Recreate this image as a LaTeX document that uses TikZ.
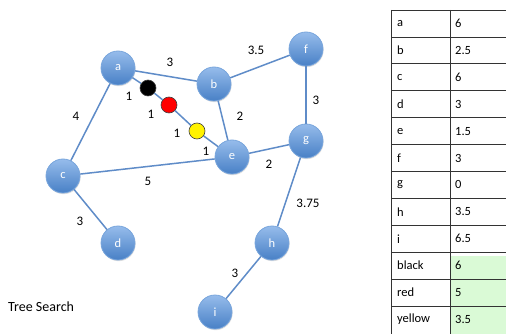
\documentclass[tikz,border=0pt]{standalone}
\usepackage{fontspec}
\setmainfont{Carlito}
\usetikzlibrary{shadows}
\definecolor{edgeblue}{RGB}{95,140,200}
\definecolor{nodetop}{RGB}{150,188,235}
\definecolor{nodebot}{RGB}{72,128,198}
\definecolor{noderim}{RGB}{120,165,220}
\definecolor{cellgreen}{RGB}{218,250,214}
\tikzset{
  vertex/.style={circle, minimum size=34pt, inner sep=0pt, draw=noderim, line width=0.8pt,
    top color=nodetop, bottom color=nodebot, text=white, font=\fontsize{12.5}{12.5}\selectfont,
    drop shadow={shadow xshift=0.6pt, shadow yshift=-1.2pt, opacity=0.25}},
  marker/.style={circle, minimum size=16pt, inner sep=0pt, draw=black!75, line width=0.6pt},
  link/.style={draw=edgeblue, line width=1.5pt},
  weight/.style={font=\fontsize{13}{13}\selectfont, inner sep=0pt},
  cell/.style={font=\fontsize{12.5}{12.5}\selectfont, anchor=west, inner sep=0pt},
  grid/.style={draw=black!80, line width=0.7pt}
}
\begin{document}
\begin{tikzpicture}[x=1pt, y=-1pt]
\useasboundingbox (0,0) rectangle (506,334);

% graph vertices
\node[vertex] (a) at (118,68) {a};
\node[vertex] (b) at (214,84) {b};
\node[vertex] (f) at (306,49) {f};
\node[vertex] (g) at (306,141) {g};
\node[vertex] (e) at (232,157) {e};
\node[vertex] (c) at (63,176) {c};
\node[vertex] (d) at (118,243) {d};
\node[vertex] (h) at (272,243) {h};
\node[vertex] (i) at (215,312) {i};

% search markers on the a--e edge
\node[marker, fill=black] (black) at (148,88) {};
\node[marker, fill=red] (red) at (169,105) {};
\node[marker, fill=yellow] (yellow) at (197,131) {};

% edges
\draw[link] (a) -- (b);
\draw[link] (b) -- (f);
\draw[link] (f) -- (g);
\draw[link] (g) -- (e);
\draw[link] (b) -- (e);
\draw[link] (a) -- (c);
\draw[link] (c) -- (e);
\draw[link] (c) -- (d);
\draw[link] (g) -- (h);
\draw[link] (h) -- (i);
\draw[link] (a) -- (black);
\draw[link] (black) -- (red);
\draw[link] (red) -- (yellow);
\draw[link] (yellow) -- (e);

% edge weights
\node[weight] (wab) at (170,62) {3};
\node[weight] (wbf) at (256,50) {3.5};
\node[weight] (wac) at (76,116) {4};
\node[weight] (w1) at (129,96) {1};
\node[weight] (w2) at (151,114) {1};
\node[weight] (w3) at (177,133) {1};
\node[weight] (w4) at (206,151) {1};
\node[weight] (wbe) at (240,116) {2};
\node[weight] (wfg) at (316,100) {3};
\node[weight] (wge) at (269,164) {2};
\node[weight] (wce) at (148,181) {5};
\node[weight] (wcd) at (80,221) {3};
\node[weight] (wgh) at (308,203) {3.75};
\node[weight] (whi) at (235,273) {3};

\node[weight, anchor=west, font=\fontsize{14}{14}\selectfont] (title) at (8,307) {Tree Search};

% heuristic table
\fill[cellgreen] (450,256) rectangle (520,334);
\foreach \k/\v [count=\r from 0] in {a/6,b/2.5,c/6,d/3,e/1.5,f/3,g/0,h/3.5,i/6.5,black/6,red/5,yellow/3.5}{
  \node[cell] (k\r) at (397,{23.5+26.9*\r}) {\k};
  \node[cell] (v\r) at (455,{23.5+26.9*\r}) {\v};
  \draw[grid] (391,{10+26.9*\r}) -- (520,{10+26.9*\r});
}
\draw[grid] (391,10) -- (391,334);
\draw[grid] (450,10) -- (450,334);
\end{tikzpicture}
\end{document}
